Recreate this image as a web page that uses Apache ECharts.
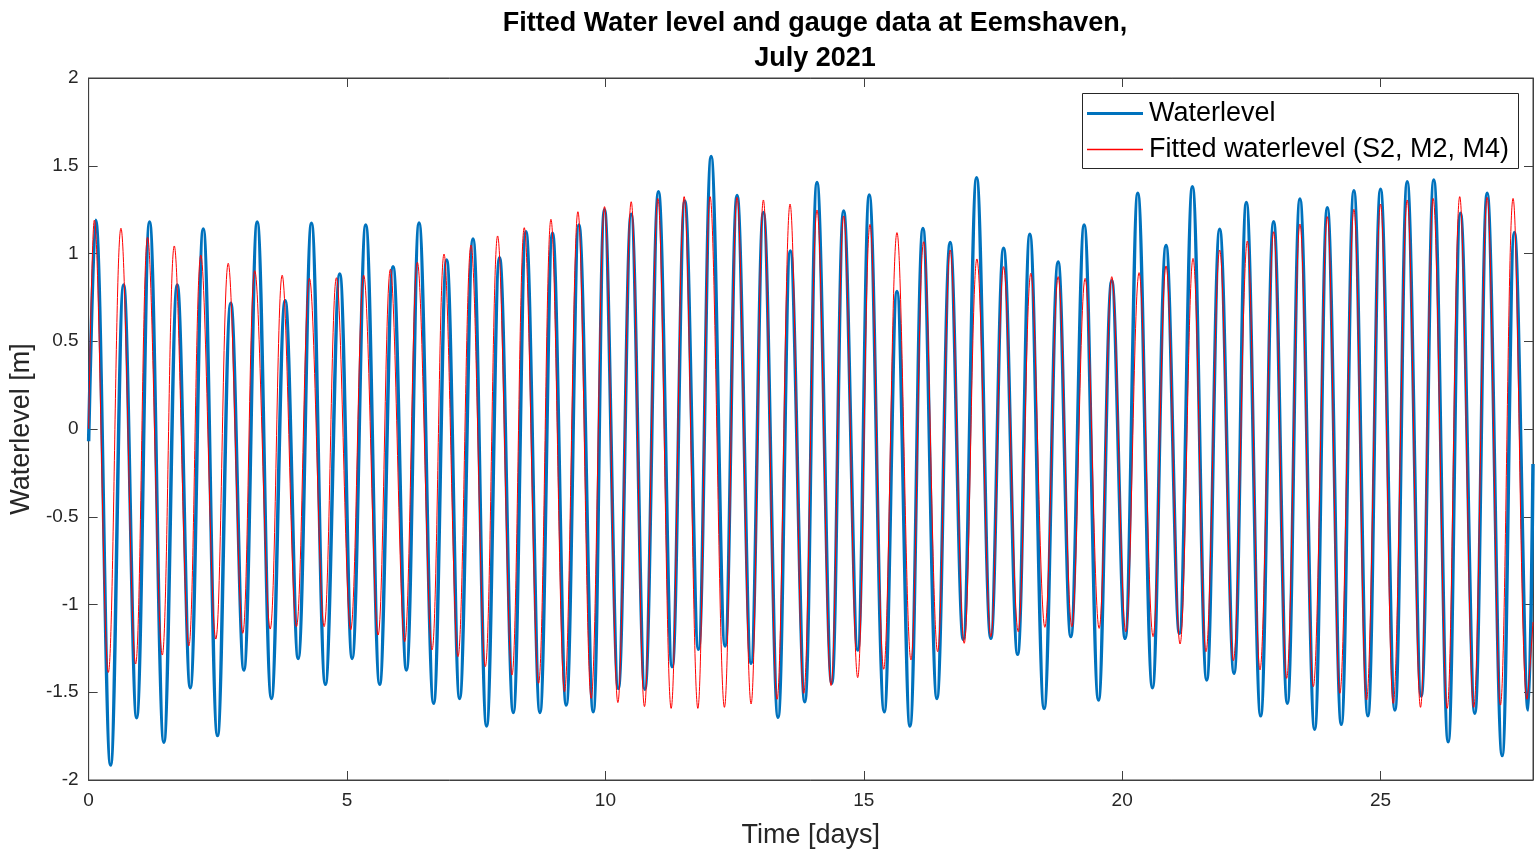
<!DOCTYPE html>
<html><head><meta charset="utf-8">
<script src="https://cdn.jsdelivr.net/npm/echarts@6/dist/echarts.min.js"></script>
<style>html,body{margin:0;padding:0;background:#fff}#c{width:1539px;height:859px}</style>
</head><body><div id="c"></div>
<script>
// Measured gauge water level: extremes (time in days, level in m)
const gaugeTime = [0.00,0.135,0.425,0.677,0.928,1.179,1.456,1.715,1.966,2.218,2.494,2.751,3.003,3.262,3.538,3.803,4.054,4.312,4.582,4.859,5.099,5.362,5.632,5.891,6.149,6.394,6.676,6.928,7.179,7.438,7.701,7.952,8.217,8.463,8.733,8.977,9.242,9.488,9.764,9.983,10.25,10.499,10.764,11.027,11.292,11.537,11.80,12.046,12.316,12.548,12.819,13.057,13.341,13.579,13.857,14.095,14.379,14.611,14.882,15.106,15.396,15.642,15.893,16.145,16.415,16.672,16.924,17.183,17.459,17.705,17.976,18.213,18.49,18.761,19.006,19.264,19.542,19.799,20.056,20.302,20.586,20.849,21.107,21.359,21.636,21.887,22.164,22.403,22.68,22.931,23.196,23.44,23.724,23.97,24.24,24.484,24.755,25.0,25.277,25.516,25.787,26.03,26.309,26.547,26.823,27.063,27.353,27.591,27.856,27.95];
const gaugeLevel = [-0.07,1.19,-1.915,0.82,-1.645,1.18,-1.785,0.82,-1.474,1.14,-1.747,0.716,-1.373,1.18,-1.535,0.731,-1.307,1.172,-1.455,0.883,-1.307,1.162,-1.455,0.925,-1.373,1.174,-1.563,0.963,-1.535,1.083,-1.692,0.976,-1.615,1.124,-1.615,1.115,-1.573,1.162,-1.611,1.25,-1.478,1.223,-1.483,1.352,-1.354,1.299,-1.255,1.552,-1.236,1.331,-1.335,1.233,-1.643,1.014,-1.554,1.404,-1.449,1.242,-1.259,1.333,-1.611,0.783,-1.692,1.143,-1.535,1.062,-1.198,1.432,-1.193,1.03,-1.284,1.109,-1.592,0.952,-1.183,1.162,-1.544,0.845,-1.193,1.343,-1.474,1.045,-1.164,1.381,-1.43,1.138,-1.392,1.29,-1.634,1.181,-1.563,1.311,-1.711,1.261,-1.683,1.358,-1.634,1.366,-1.601,1.409,-1.521,1.419,-1.782,1.229,-1.62,1.343,-1.861,1.119,-1.601,-0.2];
// Fitted water level (S2, M2, M4): extremes
const fitTime = [0.00,0.11,0.381,0.625,0.909,1.141,1.425,1.657,1.939,2.171,2.461,2.701,2.983,3.215,3.513,3.745,4.022,4.273,4.557,4.795,5.071,5.323,5.601,5.839,6.116,6.361,6.645,6.877,7.148,7.399,7.676,7.914,8.192,8.43,8.707,8.946,9.209,9.468,9.725,9.983,10.241,10.499,10.756,11.015,11.272,11.524,11.789,12.026,12.303,12.548,12.819,13.057,13.322,13.573,13.838,14.095,14.366,14.611,14.882,15.12,15.385,15.642,15.913,16.158,16.429,16.672,16.943,17.189,17.459,17.705,17.988,18.233,18.504,18.761,19.026,19.283,19.554,19.799,20.07,20.327,20.598,20.849,21.12,21.371,21.622,21.887,22.152,22.422,22.667,22.931,23.183,23.44,23.699,23.97,24.213,24.484,24.729,25.0,25.246,25.516,25.773,26.018,26.289,26.532,26.803,27.063,27.32,27.564,27.835,27.95];
const fitLevel = [0.0,1.19,-1.387,1.144,-1.339,1.092,-1.288,1.043,-1.236,0.991,-1.197,0.944,-1.164,0.902,-1.14,0.876,-1.126,0.858,-1.126,0.862,-1.145,0.876,-1.174,0.91,-1.212,0.95,-1.259,0.997,-1.297,1.048,-1.354,1.10,-1.402,1.147,-1.449,1.195,-1.497,1.238,-1.535,1.267,-1.559,1.295,-1.582,1.314,-1.592,1.324,-1.592,1.324,-1.586,1.32,-1.567,1.305,-1.54,1.282,-1.506,1.248,-1.462,1.214,-1.417,1.166,-1.369,1.119,-1.316,1.067,-1.269,1.02,-1.221,0.969,-1.183,0.925,-1.155,0.887,-1.13,0.868,-1.126,0.858,-1.136,0.868,-1.155,0.891,-1.183,0.929,-1.225,0.972,-1.269,1.02,-1.32,1.071,-1.373,1.124,-1.421,1.168,-1.468,1.21,-1.506,1.252,-1.544,1.282,-1.563,1.305,-1.586,1.314,-1.592,1.324,-1.586,1.32,-1.573,1.314,-1.54,-1.1];
const xTicks = [0,5,10,15,20,25];
const yTicks = [-2,-1.5,-1,-0.5,0,0.5,1,1.5,2];
const seriesNames = ['Waterlevel','Fitted waterlevel (S2, M2, M4)'];

const chart = echarts.init(document.getElementById('c'));
const axisCol = '#404040';
const lblCol = '#262626';
const ff = 'Liberation Sans, Arial, sans-serif';
const gaugeData = gaugeTime.map((t,i)=>[t,gaugeLevel[i]]);
const fitData = fitTime.map((t,i)=>[t,fitLevel[i]]);
const tickStyle = {show:true,inside:true,length:9,lineStyle:{color:axisCol}};
chart.setOption({
  animation:false,
  backgroundColor:'#fff',
  title:{
    text:'Fitted Water level and gauge data at Eemshaven,\nJuly 2021',
    left:810, top:1, textAlign:'center',
    textStyle:{fontFamily:ff,fontSize:27,fontWeight:'bold',color:'#000',lineHeight:35}
  },
  graphic:[{
    type:'rect', left:1082, top:93, z:50,
    shape:{width:436,height:75},
    style:{fill:'#fff',stroke:'#262626',lineWidth:1}
  }],
  legend:[{
    left:1087, top:100, padding:0, z:60, selectedMode:false,
    icon:'rect', itemWidth:56, itemHeight:3,
    textStyle:{fontFamily:ff,fontSize:27,color:'#000',padding:[0,0,0,1]},
    data:[{name:seriesNames[0],itemStyle:{color:'#0072BD',borderWidth:0},lineStyle:{color:'#0072BD'}}]
  },{
    left:1087, top:136, padding:0, z:60, selectedMode:false,
    icon:'rect', itemWidth:56, itemHeight:1.5,
    textStyle:{fontFamily:ff,fontSize:27,color:'#000',padding:[0,0,0,1]},
    data:[{name:seriesNames[1],itemStyle:{color:'#FF0000',borderWidth:0,borderColor:'#FF0000'},lineStyle:{color:'#FF0000'}}]
  }],
  grid:{left:86,right:6,top:78,bottom:79,show:true,borderColor:axisCol,borderWidth:1,backgroundColor:'transparent'},
  xAxis:[{
    type:'value', min:0, max:27.95, interval:5,
    name:'Time [days]', nameLocation:'middle', nameGap:42,
    nameTextStyle:{fontFamily:ff,fontSize:27,color:lblCol},
    axisLine:{show:true,onZero:false,lineStyle:{color:axisCol}},
    axisTick:tickStyle,
    axisLabel:{fontFamily:ff,fontSize:19,color:lblCol,margin:11,
      formatter:v=>xTicks.includes(v)?String(v):''},
    splitLine:{show:false}
  },{
    type:'value', position:'top', min:0, max:27.95, interval:5,
    axisLine:{show:true,onZero:false,lineStyle:{color:axisCol}},
    axisTick:tickStyle,
    axisLabel:{show:false}, splitLine:{show:false}
  }],
  yAxis:[{
    type:'value', min:-2, max:2, interval:0.5,
    name:'Waterlevel [m]', nameLocation:'middle', nameGap:52, nameRotate:90,
    nameTextStyle:{fontFamily:ff,fontSize:27,color:lblCol},
    axisLine:{show:true,onZero:false,lineStyle:{color:axisCol}},
    axisTick:tickStyle,
    axisLabel:{fontFamily:ff,fontSize:19,color:lblCol,margin:10,
      formatter:v=>yTicks.includes(v)?String(v):''},
    splitLine:{show:false}
  },{
    type:'value', position:'right', min:-2, max:2, interval:0.5,
    axisLine:{show:true,onZero:false,lineStyle:{color:axisCol}},
    axisTick:tickStyle,
    axisLabel:{show:false}, splitLine:{show:false}
  }],
  series:[{
    name:seriesNames[0], type:'line', data:gaugeData, symbol:'none',
    smooth:0.38, lineStyle:{color:'#0072BD',width:3.5}, itemStyle:{color:'#0072BD'}, z:2
  },{
    name:seriesNames[1], type:'line', data:fitData, symbol:'none',
    smooth:0.38, lineStyle:{color:'#FF0000',width:1}, itemStyle:{color:'#FF0000'}, z:3
  }]
});
</script></body></html>
